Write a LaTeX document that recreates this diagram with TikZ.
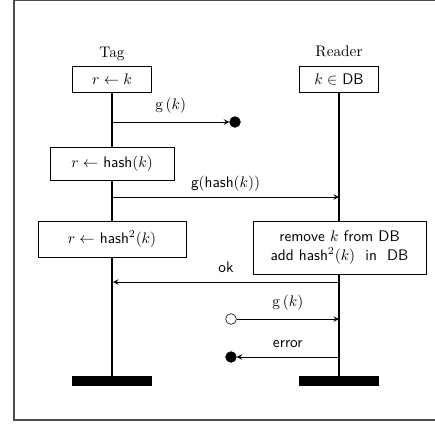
\documentclass[tikz,border=0pt]{standalone}
\usepackage{amsmath}
\usetikzlibrary{arrows,positioning,calc}

\begin{document}
\begin{tikzpicture}[x=0.653pt, y=-0.653pt, >=stealth,
        act/.style={draw, semithick, fill=white, inner sep=0pt, align=center, font=\sffamily},
        bar/.style={fill=black, minimum width=52pt, minimum height=6.5pt, inner sep=0pt},
        lost/.style={circle, draw, fill=black, minimum size=7pt, inner sep=0pt},
        found/.style={circle, draw, fill=white, minimum size=7pt, inner sep=0pt},
        msg/.style={->, line width=0.6pt},
        lbl/.style={midway, anchor=base, yshift=6.5pt, font=\sffamily},
        thread/.style={line width=1.3pt},
        idle/.style={line width=0.7pt}
      ]

        % frame
        \useasboundingbox (0,0) rectangle (435,426);
        \draw [gray!60!black, line width=1.2pt] (14,0.5) rectangle (480,420);

        % Tag side
        \node (tagInit) [act, minimum width=52pt, minimum height=17pt] at (112,79) {$r \gets k$};
        \node (tagHash) [act, minimum width=81pt, minimum height=21.5pt] at (112,163.5) {$r \gets$ hash$(k)$};
        \node (tagHash2) [act, minimum width=96.6pt, minimum height=23.5pt] at (112,239) {$r \gets$ hash$^2(k)$};
        \node (tagBar) [bar] at (112,381) {};
        \node[yshift=5.2pt,anchor=base] (tagName) at (tagInit.north) {Tag};

        % Reader side
        \node (readerInit) [act, minimum width=52pt, minimum height=17pt] at (339,79) {$k \in$ DB};
        \node (readerUpd) [act, minimum width=113pt, minimum height=34.6pt] at (339.5,247.5) {
          remove $k$ from DB\\add hash$^2(k)$\ \ in\ \ DB};
        \node (readerBar) [bar] at (339,381) {};
        \node[yshift=5.8pt,anchor=base] (readerName) at (readerInit.north) {Reader};

        % lifelines
        \draw [thread] (tagInit.south) -- (tagHash.north);
        \draw [thread] (tagHash.south) -- (tagHash2.north);
        \draw [thread] (tagHash2.south) -- (tagBar.north);
        \draw [idle] (readerInit.south) -- (readerUpd.north -| readerInit.south);
        \draw [idle] (readerUpd.south -| readerInit.south) -- (readerBar.north);

        % messages
        \coordinate (m1) at (112,122);
        \node (lost1) [lost] at (235,122) {};
        \draw [msg] (m1) -- (lost1) node [lbl, yshift=1.5pt] {$\mathrm{g}\,(k)$};

        \coordinate (m2a) at (112,197);
        \coordinate (m2b) at (339,197);
        \draw [msg] (m2a) -- (m2b) node [lbl] {g$($hash$(k))$};

        \coordinate (m3a) at (339,282);
        \coordinate (m3b) at (113,282);
        \draw [msg] (m3a) -- (m3b) node [lbl] {ok};

        \node (found1) [found] at (231,319) {};
        \coordinate (m4) at (339,319);
        \draw [msg] (found1) -- (m4) node [lbl, yshift=1.5pt] {$\mathrm{g}\,(k)$};

        \coordinate (m5) at (339,357);
        \node (lost2) [lost] at (231,357) {};
        \draw [msg] (m5) -- (lost2) node [lbl] {error};

      \end{tikzpicture}
\end{document}
